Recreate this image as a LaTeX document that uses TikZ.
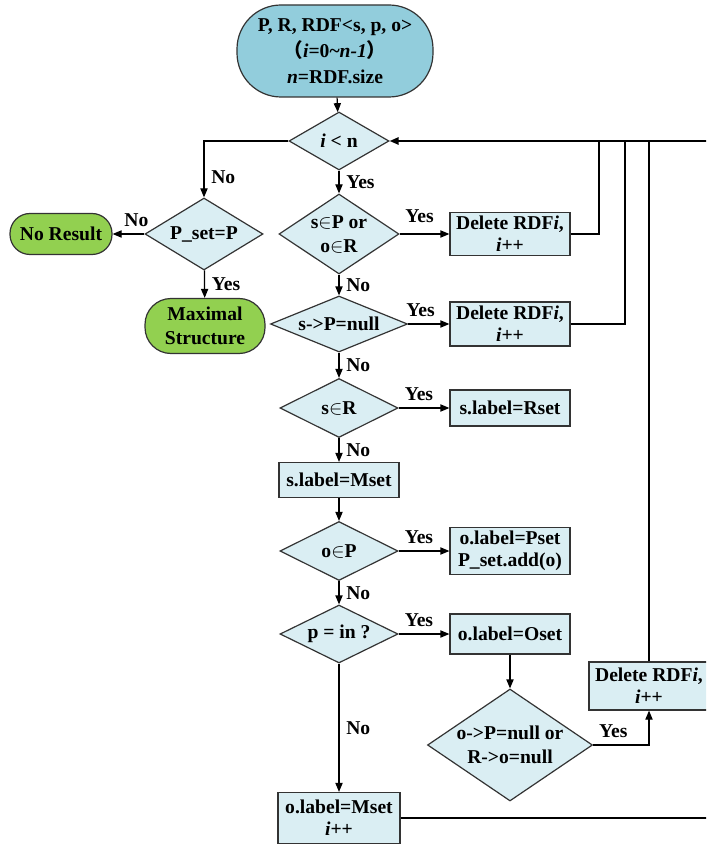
\documentclass[tikz,border=0pt]{standalone}
\usepackage{fontspec}
\setmainfont{Liberation Serif}
\newfontfamily\cjk{Noto Sans CJK SC}
\usetikzlibrary{shapes.geometric}
\usetikzlibrary{arrows.meta}
\definecolor{boxblue}{RGB}{218,238,243}
\definecolor{startblue}{RGB}{146,205,220}
\definecolor{endgreen}{RGB}{146,208,80}
\newcommand*{\bwd}{60pt}
\newcommand*{\dwd}{59pt}
\newcommand*{\dht}{29.5pt}

\begin{document}
\begin{tikzpicture}[x=0.5pt, y=-0.5pt, line width=0.6pt,
    font=\fontsize{9.8}{11}\selectfont\bfseries,
    decision/.style={diamond, draw=black!80, fill=boxblue, inner sep=0pt},
    dtext/.style={align=center, inner sep=0pt},
    process/.style={rectangle, draw=black!80, fill=boxblue, inner sep=1pt, align=center, minimum width=\bwd},
    terminal/.style={rectangle, draw=black!80, fill=endgreen, inner sep=1pt, align=center},
    arr/.style={-{Triangle[length=4.5pt,width=3.6pt]}}]
    \useasboundingbox (0,0) rectangle (706,844);
    \clip (0,0) rectangle (706,844);
        \node [rectangle, rounded corners=22pt, draw=black!80, fill=startblue, align=center, minimum width=98pt, minimum height=46pt] (input) at (335,51)
            {P, R, RDF<s, p, o>\\[2pt]{\cjk （}\textit{i}=0\textasciitilde\textit{n-1}{\cjk ）}\\[2pt]\textit{n}=RDF.size};
        \node [decision, minimum width=50pt, minimum height=29pt, label={[dtext]center:\textit{i} < n}] (cond) at (339,141) {};
        \node [decision, minimum width=\dwd, minimum height=36pt, label={[dtext]center:P\_set=P}] (pcheck) at (204,234) {};
        \node [terminal, rounded corners=10pt, minimum width=51pt, minimum height=20.5pt] (noresult) at (61,234) {No Result};
        \node [terminal, rounded corners=13pt, minimum width=60pt, minimum height=27.5pt] (maximal) at (205,326) {Maximal\\[1pt]Structure};
        \node [decision, minimum width=60pt, minimum height=40pt, label={[dtext]center:s$\in$P or\\[1pt]o$\in$R}] (inpr) at (339,234) {};
        \node [process, minimum height=21.5pt] (del1) at (510,234) {Delete RDF\textit{i},\\\textit{i}++};
        \node [decision, minimum width=68.5pt, minimum height=28pt, label={[dtext]center:s->P=null}] (spnull) at (339,324) {};
        \node [process, minimum height=22pt] (del2) at (510,324) {Delete RDF\textit{i},\\\textit{i}++};
        \node [decision, minimum width=\dwd, minimum height=\dht, label={[dtext]center:s$\in$R}] (sinr) at (339,408) {};
        \node [process, minimum height=18pt] (rset) at (510,408) {s.label=Rset};
        \node [process, minimum height=17.5pt] (smset) at (339,480) {s.label=Mset};
        \node [decision, minimum width=\dwd, minimum height=\dht, label={[dtext]center:o$\in$P}] (oinp) at (339,551) {};
        \node [process, minimum height=23.5pt] (pset) at (510,551) {o.label=Pset\\P\_set.add(o)};
        \node [decision, minimum width=\dwd, minimum height=29pt, label={[dtext]center:p = in ?}] (pin) at (339,634) {};
        \node [process, minimum height=20pt] (oset) at (510,634) {o.label=Oset};
        \node [decision, minimum width=82.5pt, minimum height=56pt, label={[dtext]center:o->P=null or\\[1pt]R->o=null}] (onull) at (510,745) {};
        \node [process, minimum height=24pt] (del3) at (649,686) {Delete RDF\textit{i},\\\textit{i}++};
        \node [process, minimum width=61pt, minimum height=25.5pt] (omset) at (339,818) {o.label=Mset\\\textit{i}++};
        \coordinate (back) at (712,141);
        \coordinate (j1) at (599,141);
        \coordinate (j2) at (625,141);
        \coordinate (j3) at (649,141);
        \draw [arr] (input) -- (cond);
        \draw [arr] (cond.west) -| node [pos=0.82, right] {No} (pcheck.north);
        \draw [arr] (cond) -- node [right] {Yes} (inpr);
        \draw [arr] (pcheck) -- node [pos=0.25, above] {No} (noresult);
        \draw [arr] (pcheck) -- node [right] {Yes} (maximal);
        \draw [arr] (inpr) -- node [pos=0.4, above=2pt] {Yes} (del1);
        \draw [arr] (inpr) -- node [right] {No} (spnull);
        \draw [arr] (spnull) -- node [pos=0.3, above] {Yes} (del2);
        \draw [arr] (spnull) -- node [right] {No} (sinr);
        \draw [arr] (sinr) -- node [pos=0.4, above] {Yes} (rset);
        \draw [arr] (sinr) -- node [right] {No} (smset);
        \draw [arr] (smset) -- (oinp);
        \draw [arr] (oinp) -- node [pos=0.4, above] {Yes} (pset);
        \draw [arr] (oinp) -- node [right] {No} (pin);
        \draw [arr] (pin) -- node [pos=0.4, above] {Yes} (oset);
        \draw [arr] (pin) -- node [right] {No} (omset);
        \draw [arr] (oset) -- (onull);
        \draw [arr] (onull.east) -| node [pos=0.18, above] {Yes} (del3.south);
        % back to i < n
        \draw (del1.east) -| (j1);
        \draw (del2.east) -| (j2);
        \draw (del3.north) -- (j3);
        \draw (omset.east) -| (back);
        \draw [arr, line width=1pt] (back) -- (cond.east);
\end{tikzpicture}
\end{document}
